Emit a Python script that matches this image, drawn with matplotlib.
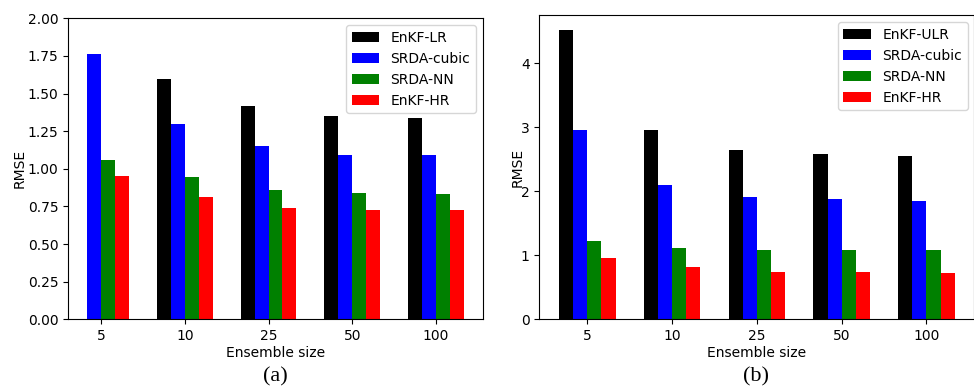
import numpy as np
import matplotlib
matplotlib.use("Agg")
from matplotlib import pyplot as plt

ensemble_sizes = ["5", "10", "25", "50", "100"]

# panel (a)
labels_a = ["EnKF-LR", "SRDA-cubic", "SRDA-NN", "EnKF-HR"]
enkf_lr = [np.nan, 1.597, 1.418, 1.351, 1.338]
srda_cubic_a = [1.763, 1.298, 1.152, 1.092, 1.092]
srda_nn_a = [1.056, 0.946, 0.859, 0.839, 0.833]
enkf_hr_a = [0.952, 0.813, 0.740, 0.726, 0.726]

# panel (b)
labels_b = ["EnKF-ULR", "SRDA-cubic", "SRDA-NN", "EnKF-HR"]
enkf_ulr = [4.527, 2.962, 2.649, 2.587, 2.555]
srda_cubic_b = [2.962, 2.102, 1.914, 1.883, 1.851]
srda_nn_b = [1.226, 1.116, 1.085, 1.085, 1.085]
enkf_hr_b = [0.960, 0.819, 0.741, 0.741, 0.725]

colors = ["black", "blue", "green", "red"]
plt.rcParams["font.family"] = "DejaVu Sans"
plt.rcParams["font.size"] = 10


def draw_panel(ax, series, labels, ylabel_x):
    x = np.arange(len(ensemble_sizes))
    w = 1 / 6
    for i, (vals, lab, c) in enumerate(zip(series, labels, colors)):
        ax.bar(x + (i - 1.5) * w, vals, width=w, color=c, label=lab)
    ax.set_xticks(x)
    ax.set_xticklabels(ensemble_sizes)
    ax.set_xlabel("Ensemble size", labelpad=2)
    ax.set_ylabel("RMSE", va="center")
    ax.yaxis.set_label_coords(ylabel_x, 0.5)
    ax.legend(loc="upper right", fontsize=10)


fig = plt.figure(figsize=(9.74, 3.86), dpi=100)

ax1 = fig.add_axes([0.0701, 0.1728, 0.4255, 0.7798])
draw_panel(ax1, [enkf_lr, srda_cubic_a, srda_nn_a, enkf_hr_a], labels_a, -0.1166)
ax1.set_ylim(0, 2.0)
ax1.set_yticks(np.arange(0, 2.01, 0.25))

ax2 = fig.add_axes([0.5537, 0.1728, 0.4468, 0.7876])
draw_panel(ax2, [enkf_ulr, srda_cubic_b, srda_nn_b, enkf_hr_b], labels_b, -0.049)
ax2.set_ylim(bottom=0)

fig.text(0.2828, 0.023, "(a)", family="Liberation Serif", fontsize=16,
         ha="center", va="center")
fig.text(0.7762, 0.023, "(b)", family="Liberation Serif", fontsize=16,
         ha="center", va="center")

fig.savefig("out.png", dpi=100)
